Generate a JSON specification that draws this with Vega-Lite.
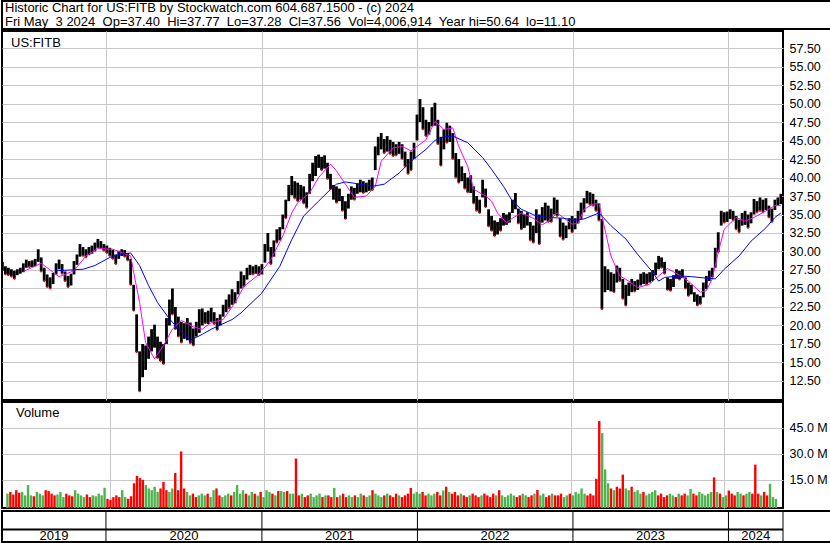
{
"$schema":"https://vega.github.io/schema/vega-lite/v6.json",
"padding":0,
"background":"white",
"spacing":0,
"config":{"font":"Liberation Sans","view":{"stroke":"black","strokeWidth":2},"axis":{"labelFont":"Liberation Sans","labelFontSize":12.5,"labelColor":"black","gridColor":"#c8c8c8","gridWidth":1,"ticks":false,"domain":false},"text":{"font":"Liberation Sans","fontSize":13,"color":"black"}},
"datasets":{
"yrs":[{"yr":"2019","s":"2019-05-02","e":"2020-01-01","m":"2019-09-01"},{"yr":"2020","s":"2020-01-01","e":"2021-01-01","m":"2020-07-02"},{"yr":"2021","s":"2021-01-01","e":"2022-01-01","m":"2021-07-02"},{"yr":"2022","s":"2022-01-01","e":"2023-01-01","m":"2022-07-02"},{"yr":"2023","s":"2023-01-01","e":"2024-01-01","m":"2023-07-02"},{"yr":"2024","s":"2024-01-01","e":"2024-05-08","m":"2024-03-05"}],
"w":[
{"d":"2019-05-03","h":28.6,"l":27.4,"v":7,"u":1},
{"d":"2019-05-10","h":28.0,"l":26.9,"v":8,"u":0},
{"d":"2019-05-17","h":27.8,"l":26.8,"v":6.5,"u":0},
{"d":"2019-05-24","h":27.6,"l":26.6,"v":9,"u":0},
{"d":"2019-05-31","h":27.4,"l":26.3,"v":7.5,"u":0},
{"d":"2019-06-07","h":27.6,"l":26.8,"v":8,"u":1},
{"d":"2019-06-14","h":27.8,"l":27.0,"v":6,"u":1},
{"d":"2019-06-21","h":28.4,"l":27.2,"v":12,"u":1,"p":27.3},
{"d":"2019-06-28","h":28.9,"l":27.8,"v":6,"u":1},
{"d":"2019-07-05","h":28.7,"l":27.9,"v":5.5,"u":0},
{"d":"2019-07-12","h":28.8,"l":27.9,"v":8,"u":1},
{"d":"2019-07-19","h":29.0,"l":28.0,"v":7,"u":1},
{"d":"2019-07-26","h":30.3,"l":28.6,"v":6,"u":1},
{"d":"2019-08-02","h":29.2,"l":27.3,"v":9,"u":0,"p":28.4},
{"d":"2019-08-09","h":27.8,"l":26.0,"v":8.5,"u":0},
{"d":"2019-08-16","h":26.9,"l":25.2,"v":7,"u":0},
{"d":"2019-08-23","h":26.5,"l":25.0,"v":6,"u":0},
{"d":"2019-08-30","h":27.1,"l":25.6,"v":6.5,"u":1},
{"d":"2019-09-06","h":28.4,"l":26.9,"v":8,"u":1,"b":27.4},
{"d":"2019-09-13","h":28.9,"l":27.6,"v":5,"u":1,"p":26.6},
{"d":"2019-09-20","h":28.3,"l":27.0,"v":7,"u":0},
{"d":"2019-09-27","h":27.3,"l":26.0,"v":6,"u":0},
{"d":"2019-10-04","h":26.7,"l":25.2,"v":5.5,"u":0},
{"d":"2019-10-11","h":27.0,"l":25.4,"v":9,"u":1},
{"d":"2019-10-18","h":28.7,"l":26.9,"v":7,"u":1,"p":27.4},
{"d":"2019-10-25","h":29.6,"l":28.2,"v":6,"u":1},
{"d":"2019-11-01","h":31.0,"l":29.3,"v":5,"u":1},
{"d":"2019-11-08","h":30.6,"l":29.4,"v":6.5,"u":0,"b":27.6},
{"d":"2019-11-15","h":30.3,"l":29.2,"v":5,"u":0,"p":29.4},
{"d":"2019-11-22","h":30.6,"l":29.5,"v":6,"u":1},
{"d":"2019-11-29","h":30.8,"l":29.7,"v":5.5,"u":1},
{"d":"2019-12-06","h":31.2,"l":30.0,"v":7,"u":1,"b":28.1},
{"d":"2019-12-13","h":31.7,"l":30.5,"v":6,"u":1,"p":30.4},
{"d":"2019-12-20","h":31.4,"l":30.4,"v":10.4,"u":1},
{"d":"2019-12-27","h":31.0,"l":30.1,"v":4,"u":0},
{"d":"2020-01-03","h":30.8,"l":29.8,"v":3.5,"u":0},
{"d":"2020-01-10","h":30.5,"l":29.4,"v":5,"u":0,"b":29.2},
{"d":"2020-01-17","h":30.2,"l":29.0,"v":6,"u":0,"p":30.3},
{"d":"2020-01-24","h":29.6,"l":28.3,"v":5,"u":0},
{"d":"2020-01-31","h":30.1,"l":29.0,"v":9,"u":1,"b":29.6},
{"d":"2020-02-07","h":30.3,"l":29.4,"v":5,"u":1},
{"d":"2020-02-14","h":30.2,"l":29.3,"v":4,"u":0,"p":29.7},
{"d":"2020-02-21","h":29.8,"l":28.8,"v":5.5,"u":0},
{"d":"2020-02-28","h":29.0,"l":25.5,"v":13,"u":0,"p":29.4,"b":29.8},
{"d":"2020-03-06","h":25.5,"l":22.0,"v":17.3,"u":0,"p":27.2},
{"d":"2020-03-13","h":21.5,"l":16.4,"v":16,"u":0},
{"d":"2020-03-20","h":16.5,"l":11.1,"v":15,"u":0,"p":23.1,"b":28.1},
{"d":"2020-03-27","h":17.5,"l":13.0,"v":12,"u":1},
{"d":"2020-04-03","h":17.3,"l":14.0,"v":10,"u":1,"p":17.7},
{"d":"2020-04-10","h":18.5,"l":15.5,"v":9,"u":1,"b":25.4},
{"d":"2020-04-17","h":19.5,"l":16.5,"v":11,"u":1},
{"d":"2020-04-24","h":20.1,"l":17.0,"v":8,"u":1,"p":15.5},
{"d":"2020-05-01","h":18.5,"l":15.6,"v":10,"u":0,"b":23.1},
{"d":"2020-05-08","h":17.8,"l":15.2,"v":13.8,"u":0},
{"d":"2020-05-15","h":17.5,"l":14.8,"v":9,"u":0,"p":17.3},
{"d":"2020-05-22","h":21.0,"l":17.5,"v":8,"u":1},
{"d":"2020-05-29","h":23.5,"l":20.0,"v":10,"u":1,"b":20.9},
{"d":"2020-06-05","h":25.0,"l":21.5,"v":19,"u":0,"p":19.5},
{"d":"2020-06-12","h":22.5,"l":19.5,"v":9,"u":0},
{"d":"2020-06-19","h":21.2,"l":18.5,"v":31.4,"u":0},
{"d":"2020-06-26","h":20.5,"l":17.7,"v":10,"u":0,"p":20.7,"b":19.1},
{"d":"2020-07-03","h":20.3,"l":18.2,"v":8,"u":1},
{"d":"2020-07-10","h":21.0,"l":18.0,"v":6,"u":1},
{"d":"2020-07-17","h":20.4,"l":17.6,"v":7,"u":0,"b":18.0},
{"d":"2020-07-24","h":19.6,"l":17.3,"v":5,"u":0,"p":19.8},
{"d":"2020-07-31","h":20.5,"l":18.5,"v":6,"u":1},
{"d":"2020-08-07","h":22.2,"l":19.0,"v":7,"u":1},
{"d":"2020-08-14","h":22.3,"l":20.0,"v":6,"u":1,"p":19.5,"b":18.8},
{"d":"2020-08-21","h":21.8,"l":20.3,"v":7,"u":0},
{"d":"2020-08-28","h":22.0,"l":20.2,"v":5,"u":1},
{"d":"2020-09-04","h":22.4,"l":20.5,"v":9,"u":1,"p":20.4,"b":19.5},
{"d":"2020-09-11","h":21.8,"l":20.2,"v":10,"u":0},
{"d":"2020-09-18","h":21.0,"l":19.4,"v":6,"u":0},
{"d":"2020-09-25","h":21.5,"l":20.0,"v":5,"u":1},
{"d":"2020-10-02","h":22.8,"l":21.2,"v":6,"u":1,"p":20.8},
{"d":"2020-10-09","h":23.5,"l":21.8,"v":7,"u":1},
{"d":"2020-10-16","h":24.2,"l":22.3,"v":6,"u":0},
{"d":"2020-10-23","h":24.9,"l":22.8,"v":8,"u":1,"b":20.8},
{"d":"2020-10-30","h":24.5,"l":23.0,"v":12,"u":1,"p":23.1},
{"d":"2020-11-06","h":26.0,"l":24.2,"v":7,"u":1},
{"d":"2020-11-13","h":27.3,"l":25.0,"v":9,"u":1,"b":21.7},
{"d":"2020-11-20","h":26.8,"l":25.3,"v":7,"u":0,"p":25.3},
{"d":"2020-11-27","h":27.8,"l":26.2,"v":6,"u":1},
{"d":"2020-12-04","h":28.2,"l":26.8,"v":8,"u":1},
{"d":"2020-12-11","h":28.0,"l":26.9,"v":7,"u":0},
{"d":"2020-12-18","h":28.2,"l":27.0,"v":6,"u":1},
{"d":"2020-12-25","h":28.0,"l":26.8,"v":8,"u":0,"p":26.9},
{"d":"2021-01-01","h":28.3,"l":26.9,"v":5,"u":1,"b":24.4},
{"d":"2021-01-08","h":31.0,"l":28.5,"v":9,"u":1},
{"d":"2021-01-15","h":32.5,"l":30.0,"v":8,"u":1},
{"d":"2021-01-22","h":30.6,"l":28.3,"v":7,"u":0,"p":28.9},
{"d":"2021-01-29","h":31.5,"l":29.3,"v":6,"u":1},
{"d":"2021-02-05","h":33.0,"l":31.2,"v":8.5,"u":0},
{"d":"2021-02-12","h":33.3,"l":31.5,"v":8.5,"u":1,"b":28.0},
{"d":"2021-02-19","h":35.0,"l":33.0,"v":8,"u":1,"p":32.1},
{"d":"2021-02-26","h":37.0,"l":34.5,"v":8.5,"u":0},
{"d":"2021-03-05","h":39.0,"l":36.8,"v":7,"u":1},
{"d":"2021-03-12","h":40.2,"l":37.6,"v":7,"u":1,"p":35.2,"b":31.6},
{"d":"2021-03-19","h":39.5,"l":37.2,"v":27.3,"u":0},
{"d":"2021-03-26","h":39.3,"l":36.8,"v":6,"u":0,"p":36.6},
{"d":"2021-04-02","h":39.0,"l":37.0,"v":7,"u":1},
{"d":"2021-04-09","h":38.8,"l":36.5,"v":5,"u":0,"b":34.8},
{"d":"2021-04-16","h":38.0,"l":35.9,"v":6,"u":0},
{"d":"2021-04-23","h":40.5,"l":37.8,"v":7,"u":1,"p":37.9},
{"d":"2021-04-30","h":42.0,"l":39.5,"v":5,"u":1},
{"d":"2021-05-07","h":42.9,"l":40.2,"v":6,"u":1},
{"d":"2021-05-14","h":43.1,"l":41.3,"v":7,"u":1,"p":40.0,"b":36.8},
{"d":"2021-05-21","h":42.8,"l":41.0,"v":5,"u":0},
{"d":"2021-05-28","h":43.0,"l":41.2,"v":6,"u":1},
{"d":"2021-06-04","h":42.0,"l":39.8,"v":6,"u":0},
{"d":"2021-06-11","h":40.5,"l":38.4,"v":5,"u":0,"p":41.8,"b":38.4},
{"d":"2021-06-18","h":39.0,"l":37.0,"v":10.3,"u":1},
{"d":"2021-06-25","h":38.8,"l":36.6,"v":5,"u":0,"p":40.9,"b":39.1},
{"d":"2021-07-02","h":38.5,"l":36.8,"v":6,"u":1},
{"d":"2021-07-09","h":37.5,"l":35.5,"v":7,"u":0},
{"d":"2021-07-16","h":36.8,"l":34.4,"v":5,"u":0,"p":39.1,"b":39.4},
{"d":"2021-07-23","h":37.8,"l":35.8,"v":6,"u":1},
{"d":"2021-07-30","h":38.8,"l":37.0,"v":5,"u":1},
{"d":"2021-08-06","h":38.6,"l":37.0,"v":6,"u":0,"p":37.3},
{"d":"2021-08-13","h":39.2,"l":37.8,"v":5,"u":1},
{"d":"2021-08-20","h":39.7,"l":38.0,"v":7,"u":1,"b":39.1},
{"d":"2021-08-27","h":39.5,"l":37.9,"v":6,"u":0},
{"d":"2021-09-03","h":39.3,"l":38.0,"v":5,"u":1,"p":37.5},
{"d":"2021-09-10","h":39.7,"l":38.2,"v":6,"u":1},
{"d":"2021-09-17","h":40.0,"l":38.3,"v":9,"u":0,"b":38.8},
{"d":"2021-09-24","h":44.2,"l":41.0,"v":7,"u":1,"p":38.8},
{"d":"2021-10-01","h":45.5,"l":43.0,"v":6,"u":1},
{"d":"2021-10-08","h":46.0,"l":43.8,"v":5,"u":1,"p":42.2},
{"d":"2021-10-15","h":45.2,"l":43.3,"v":6,"u":0,"b":39.1},
{"d":"2021-10-22","h":45.6,"l":43.5,"v":7,"u":1},
{"d":"2021-10-29","h":45.1,"l":43.2,"v":6,"u":0},
{"d":"2021-11-05","h":44.8,"l":42.9,"v":5,"u":0,"p":44.0},
{"d":"2021-11-12","h":44.5,"l":43.0,"v":7,"u":0},
{"d":"2021-11-19","h":44.8,"l":43.2,"v":6,"u":1,"b":40.6},
{"d":"2021-11-26","h":44.5,"l":42.5,"v":5,"u":0,"p":44.2},
{"d":"2021-12-03","h":43.5,"l":41.5,"v":6,"u":0},
{"d":"2021-12-10","h":42.5,"l":40.5,"v":7,"u":0},
{"d":"2021-12-17","h":43.5,"l":41.0,"v":10.3,"u":0,"p":43.6,"b":42.2},
{"d":"2021-12-24","h":44.7,"l":42.5,"v":7,"u":1},
{"d":"2021-12-31","h":48.5,"l":45.0,"v":8,"u":1},
{"d":"2022-01-07","h":50.6,"l":47.5,"v":7,"u":1},
{"d":"2022-01-14","h":49.5,"l":46.5,"v":8,"u":0},
{"d":"2022-01-21","h":47.8,"l":45.6,"v":6,"u":0,"p":45.1,"b":43.8},
{"d":"2022-01-28","h":47.5,"l":45.8,"v":7,"u":1},
{"d":"2022-02-04","h":49.5,"l":46.9,"v":6,"u":1},
{"d":"2022-02-11","h":50.1,"l":47.0,"v":7,"u":1,"p":47.6,"b":45.0},
{"d":"2022-02-18","h":47.8,"l":44.5,"v":8,"u":0},
{"d":"2022-02-25","h":45.5,"l":41.6,"v":6,"u":0},
{"d":"2022-03-04","h":46.5,"l":43.8,"v":8.8,"u":1,"p":46.5,"b":45.5},
{"d":"2022-03-11","h":47.4,"l":44.7,"v":11,"u":0},
{"d":"2022-03-18","h":47.0,"l":44.8,"v":8,"u":1},
{"d":"2022-03-25","h":46.0,"l":42.5,"v":7,"u":0,"p":46.7,"b":45.6},
{"d":"2022-04-01","h":43.3,"l":40.0,"v":8,"u":0},
{"d":"2022-04-08","h":42.5,"l":39.3,"v":6,"u":0,"p":44.2},
{"d":"2022-04-15","h":41.5,"l":39.5,"v":7,"u":1},
{"d":"2022-04-22","h":40.6,"l":38.5,"v":6,"u":0},
{"d":"2022-04-29","h":40.0,"l":38.0,"v":5,"u":0,"p":41.5,"b":44.7},
{"d":"2022-05-06","h":40.3,"l":37.9,"v":6,"u":1},
{"d":"2022-05-13","h":38.8,"l":36.5,"v":7,"u":0,"p":38.4},
{"d":"2022-05-20","h":37.5,"l":35.5,"v":6,"u":0},
{"d":"2022-05-27","h":37.0,"l":35.2,"v":5,"u":0},
{"d":"2022-06-03","h":39.7,"l":37.3,"v":6,"u":1,"b":42.7},
{"d":"2022-06-10","h":38.5,"l":36.0,"v":7,"u":0,"p":37.5},
{"d":"2022-06-17","h":35.7,"l":33.4,"v":6,"u":0},
{"d":"2022-06-24","h":34.8,"l":32.8,"v":5,"u":0,"p":36.8,"b":41.1},
{"d":"2022-07-01","h":34.2,"l":32.1,"v":7,"u":0},
{"d":"2022-07-08","h":34.0,"l":32.3,"v":6,"u":1,"p":35.2},
{"d":"2022-07-15","h":34.5,"l":32.8,"v":9,"u":0},
{"d":"2022-07-22","h":35.2,"l":33.5,"v":6,"u":1,"b":38.8},
{"d":"2022-07-29","h":35.0,"l":33.6,"v":5,"u":1,"p":33.9},
{"d":"2022-08-05","h":35.3,"l":33.9,"v":6,"u":1},
{"d":"2022-08-12","h":37.0,"l":35.2,"v":7,"u":1,"p":34.5,"b":36.8},
{"d":"2022-08-19","h":37.9,"l":35.7,"v":6,"u":1},
{"d":"2022-08-26","h":35.8,"l":33.8,"v":5,"u":0},
{"d":"2022-09-02","h":35.5,"l":33.0,"v":6,"u":0,"p":35.2,"b":35.7},
{"d":"2022-09-09","h":35.0,"l":33.2,"v":7,"u":1},
{"d":"2022-09-16","h":35.3,"l":33.5,"v":6,"u":1},
{"d":"2022-09-23","h":34.0,"l":31.5,"v":5,"u":0},
{"d":"2022-09-30","h":33.5,"l":31.2,"v":6,"u":0,"p":34.5},
{"d":"2022-10-07","h":35.7,"l":32.5,"v":7,"u":1,"b":34.8},
{"d":"2022-10-14","h":35.0,"l":31.0,"v":9.2,"u":0},
{"d":"2022-10-21","h":36.0,"l":33.9,"v":6,"u":1,"p":33.6},
{"d":"2022-10-28","h":36.6,"l":34.2,"v":7,"u":1},
{"d":"2022-11-04","h":36.2,"l":34.0,"v":5,"u":0,"p":34.1,"b":34.6},
{"d":"2022-11-11","h":35.8,"l":34.0,"v":6,"u":0},
{"d":"2022-11-18","h":37.3,"l":35.0,"v":7,"u":1},
{"d":"2022-11-25","h":37.0,"l":34.8,"v":6,"u":0,"p":35.2},
{"d":"2022-12-02","h":34.5,"l":32.0,"v":6,"u":0},
{"d":"2022-12-09","h":33.9,"l":31.6,"v":7,"u":0,"b":34.5},
{"d":"2022-12-16","h":33.5,"l":31.8,"v":5,"u":1,"p":34.3},
{"d":"2022-12-23","h":34.5,"l":33.0,"v":6,"u":1},
{"d":"2022-12-30","h":34.8,"l":32.6,"v":7,"u":0,"p":33.7},
{"d":"2023-01-06","h":34.5,"l":33.0,"v":6,"u":1,"b":34.2},
{"d":"2023-01-13","h":35.5,"l":33.8,"v":8,"u":1,"p":33.8},
{"d":"2023-01-20","h":36.6,"l":34.4,"v":7,"u":1},
{"d":"2023-01-27","h":37.2,"l":35.3,"v":10,"u":1,"p":35.7,"b":34.4},
{"d":"2023-02-03","h":38.2,"l":36.5,"v":7,"u":1},
{"d":"2023-02-10","h":38.0,"l":36.3,"v":6,"u":0},
{"d":"2023-02-17","h":37.8,"l":36.2,"v":7,"u":0,"p":36.4},
{"d":"2023-02-24","h":37.0,"l":35.5,"v":6,"u":0},
{"d":"2023-03-03","h":36.5,"l":34.2,"v":15.6,"u":0,"p":36.5,"b":35.2},
{"d":"2023-03-10","h":34.4,"l":22.2,"v":49,"u":0},
{"d":"2023-03-17","h":28.0,"l":24.5,"v":42,"u":1,"p":33.0},
{"d":"2023-03-24","h":27.6,"l":24.8,"v":21,"u":1},
{"d":"2023-03-31","h":27.2,"l":24.6,"v":13,"u":1,"p":29.4,"b":33.5},
{"d":"2023-04-07","h":27.0,"l":24.5,"v":10,"u":0},
{"d":"2023-04-14","h":28.1,"l":25.8,"v":9,"u":1},
{"d":"2023-04-21","h":27.8,"l":26.0,"v":11,"u":0,"p":26.7},
{"d":"2023-04-28","h":26.3,"l":23.6,"v":10,"u":0},
{"d":"2023-05-05","h":25.5,"l":22.7,"v":18,"u":0,"b":31.7},
{"d":"2023-05-12","h":25.8,"l":24.0,"v":10,"u":1,"p":26.0},
{"d":"2023-05-19","h":26.3,"l":24.5,"v":9,"u":1},
{"d":"2023-05-26","h":26.0,"l":24.6,"v":11,"u":0},
{"d":"2023-06-02","h":26.2,"l":24.8,"v":8,"u":1,"p":25.1,"b":29.6},
{"d":"2023-06-09","h":27.0,"l":25.4,"v":9,"u":1},
{"d":"2023-06-16","h":27.2,"l":25.6,"v":7,"u":1},
{"d":"2023-06-23","h":27.0,"l":25.5,"v":8,"u":0},
{"d":"2023-06-30","h":27.2,"l":25.8,"v":6,"u":1,"p":25.6},
{"d":"2023-07-07","h":27.5,"l":26.0,"v":7,"u":1,"b":27.2},
{"d":"2023-07-14","h":28.5,"l":26.8,"v":8,"u":1},
{"d":"2023-07-21","h":29.4,"l":27.6,"v":9,"u":1,"p":26.7,"b":26.0},
{"d":"2023-07-28","h":29.2,"l":27.8,"v":6,"u":0},
{"d":"2023-08-04","h":28.6,"l":27.0,"v":7,"u":0,"b":26.5},
{"d":"2023-08-11","h":26.5,"l":24.8,"v":5,"u":0,"p":27.7},
{"d":"2023-08-18","h":26.3,"l":24.7,"v":6,"u":0},
{"d":"2023-08-25","h":26.8,"l":25.2,"v":7,"u":1},
{"d":"2023-09-01","h":27.6,"l":26.3,"v":6,"u":1},
{"d":"2023-09-08","h":27.4,"l":26.2,"v":5,"u":0,"p":26.8,"b":26.7},
{"d":"2023-09-15","h":27.6,"l":26.4,"v":7,"u":1},
{"d":"2023-09-22","h":26.5,"l":25.0,"v":6,"u":0},
{"d":"2023-09-29","h":25.8,"l":24.0,"v":7,"u":0,"p":26.0},
{"d":"2023-10-06","h":25.5,"l":24.2,"v":6,"u":1,"b":26.6},
{"d":"2023-10-13","h":24.5,"l":23.2,"v":9.7,"u":1},
{"d":"2023-10-20","h":24.2,"l":22.7,"v":7,"u":0},
{"d":"2023-10-27","h":24.0,"l":22.9,"v":6,"u":0,"p":24.5},
{"d":"2023-11-03","h":25.8,"l":23.8,"v":8,"u":1},
{"d":"2023-11-10","h":26.7,"l":24.9,"v":7,"u":1,"p":24.7,"b":26.4},
{"d":"2023-11-17","h":27.4,"l":26.0,"v":6,"u":1},
{"d":"2023-11-24","h":27.8,"l":26.5,"v":7,"u":1,"p":26.3},
{"d":"2023-12-01","h":30.5,"l":27.8,"v":8,"u":1,"b":26.3},
{"d":"2023-12-08","h":32.6,"l":29.9,"v":16.4,"u":0,"p":29.9},
{"d":"2023-12-15","h":35.5,"l":33.5,"v":8,"u":1},
{"d":"2023-12-22","h":35.3,"l":33.9,"v":7,"u":0,"p":33.0,"b":27.6},
{"d":"2023-12-29","h":35.4,"l":34.0,"v":5,"u":1},
{"d":"2024-01-05","h":35.7,"l":34.4,"v":6,"u":1},
{"d":"2024-01-12","h":35.5,"l":34.2,"v":8.8,"u":0},
{"d":"2024-01-19","h":34.8,"l":33.0,"v":7,"u":0,"p":34.6},
{"d":"2024-01-26","h":34.3,"l":32.6,"v":6,"u":0,"b":29.4},
{"d":"2024-02-02","h":35.2,"l":33.5,"v":8,"u":1},
{"d":"2024-02-09","h":35.5,"l":33.6,"v":7,"u":1,"p":34.1},
{"d":"2024-02-16","h":35.0,"l":33.2,"v":6,"u":0},
{"d":"2024-02-23","h":35.3,"l":33.8,"v":7,"u":1,"b":31.4},
{"d":"2024-03-01","h":37.1,"l":35.0,"v":8,"u":1,"p":34.6},
{"d":"2024-03-08","h":36.8,"l":35.3,"v":7,"u":0},
{"d":"2024-03-15","h":37.3,"l":35.5,"v":23.8,"u":0},
{"d":"2024-03-22","h":37.0,"l":35.3,"v":7,"u":0},
{"d":"2024-03-29","h":37.2,"l":35.6,"v":6,"u":1,"p":35.5,"b":33.2},
{"d":"2024-04-05","h":36.2,"l":34.6,"v":8,"u":0},
{"d":"2024-04-12","h":35.8,"l":34.0,"v":6,"u":0},
{"d":"2024-04-19","h":37.0,"l":35.6,"v":12.7,"u":1,"p":36.2,"b":34.6},
{"d":"2024-04-26","h":37.3,"l":36.2,"v":5,"u":1},
{"d":"2024-05-03","h":37.8,"l":36.4,"v":4,"u":1,"p":36.2,"b":35.2}
]},
"vconcat":[
{
"width":829,"height":28,
"data":{"values":[{"t":"Historic Chart for US:FITB by Stockwatch.com 604.687.1500 - (c) 2024","r":1},{"t":"Fri May\u00a0 3 2024\u00a0 Op=37.40\u00a0 Hi=37.77\u00a0 Lo=37.28\u00a0 Cl=37.56\u00a0 Vol=4,006,914\u00a0 Year hi=50.64\u00a0 lo=11.10","r":2}]},
"mark":{"type":"text","align":"left","baseline":"middle","fontSize":13},
"encoding":{"y":{"field":"r","type":"ordinal","axis":null,"scale":{"type":"point","padding":0.5}},"x":{"value":3},"text":{"field":"t"}}
},
{
"width":781,"height":369,
"layer":[
{"data":{"name":"w"},"mark":{"type":"rule","color":"black","strokeWidth":2.8},
"encoding":{
"x":{"field":"d","type":"temporal","scale":{"domain":[{"year":2019,"month":5,"date":2},{"year":2024,"month":5,"date":8}]},"axis":{"values":[{"year":2020,"month":1,"date":1},{"year":2021,"month":1,"date":1},{"year":2022,"month":1,"date":1},{"year":2023,"month":1,"date":1},{"year":2024,"month":1,"date":1}],"grid":true,"labels":false,"title":null}},
"y":{"field":"h","type":"quantitative","scale":{"domain":[9.93,59.8],"nice":false,"zero":false},"axis":{"orient":"right","values":[12.5,15,17.5,20,22.5,25,27.5,30,32.5,35,37.5,40,42.5,45,47.5,50,52.5,55,57.5],"format":".2f","grid":true,"labelPadding":6,"title":null}},
"y2":{"field":"l"}}},
{"data":{"name":"w"},"transform":[{"filter":"datum.u == 0"}],"mark":{"type":"square","color":"#ff0000","size":3,"opacity":1},
"encoding":{
"x":{"field":"d","type":"temporal","axis":{"values":[{"year":2020,"month":1,"date":1},{"year":2021,"month":1,"date":1},{"year":2022,"month":1,"date":1},{"year":2023,"month":1,"date":1},{"year":2024,"month":1,"date":1}],"grid":true,"labels":false,"title":null}},
"y":{"field":"l","type":"quantitative","axis":null}}},
{"data":{"name":"w"},"transform":[{"filter":"isValid(datum.p)"}],"mark":{"type":"line","color":"#ff00ff","strokeWidth":1},
"encoding":{
"x":{"field":"d","type":"temporal","axis":{"values":[{"year":2020,"month":1,"date":1},{"year":2021,"month":1,"date":1},{"year":2022,"month":1,"date":1},{"year":2023,"month":1,"date":1},{"year":2024,"month":1,"date":1}],"grid":true,"labels":false,"title":null}},
"y":{"field":"p","type":"quantitative","axis":{"orient":"right","offset":48,"domain":true,"domainColor":"black","domainWidth":2,"labels":false,"grid":false,"ticks":false,"title":null}}}},
{"data":{"name":"w"},"transform":[{"filter":"isValid(datum.b)"}],"mark":{"type":"line","color":"#0000ff","strokeWidth":1},
"encoding":{
"x":{"field":"d","type":"temporal","axis":{"values":[{"year":2020,"month":1,"date":1},{"year":2021,"month":1,"date":1},{"year":2022,"month":1,"date":1},{"year":2023,"month":1,"date":1},{"year":2024,"month":1,"date":1}],"grid":true,"labels":false,"title":null}},
"y":{"field":"b","type":"quantitative","axis":null}}},
{"data":{"values":[{"s":"US:FITB"}]},"mark":{"type":"text","align":"left","baseline":"alphabetic","dx":9,"dy":16,"fontSize":13},
"encoding":{
"x":{"datum":{"year":2019,"month":5,"date":2},"type":"temporal","axis":{"values":[{"year":2020,"month":1,"date":1},{"year":2021,"month":1,"date":1},{"year":2022,"month":1,"date":1},{"year":2023,"month":1,"date":1},{"year":2024,"month":1,"date":1}],"grid":true,"labels":false,"title":null}},
"y":{"datum":59.8,"type":"quantitative","axis":null},
"text":{"field":"s"}}}
],
"resolve":{"axis":{"y":"independent"}}
},
{
"width":781,"height":106,
"layer":[
{"data":{"name":"w"},"mark":{"type":"bar","width":2.4},
"encoding":{
"x":{"field":"d","type":"temporal","scale":{"domain":[{"year":2019,"month":5,"date":2},{"year":2024,"month":5,"date":8}]},"axis":{"values":[{"year":2020,"month":1,"date":1},{"year":2021,"month":1,"date":1},{"year":2022,"month":1,"date":1},{"year":2023,"month":1,"date":1},{"year":2024,"month":1,"date":1}],"grid":true,"labels":false,"title":null}},
"y":{"field":"v","type":"quantitative","scale":{"domain":[-1.3,60],"nice":false,"zero":false},"axis":{"orient":"right","values":[15,30,45],"labelExpr":"format(datum.value, '.1f') + ' M'","grid":true,"labelPadding":6,"title":null}},
"y2":{"datum":-1.3},
"color":{"field":"u","type":"nominal","scale":{"domain":[0,1],"range":["#ff0000","#4db34d"]},"legend":null}}},
{"data":{"values":[{"s":"Volume"}]},"mark":{"type":"text","align":"left","baseline":"alphabetic","dx":9,"dy":15,"fontSize":13},
"encoding":{
"x":{"datum":{"year":2019,"month":5,"date":2},"type":"temporal","axis":{"values":[{"year":2020,"month":1,"date":1},{"year":2021,"month":1,"date":1},{"year":2022,"month":1,"date":1},{"year":2023,"month":1,"date":1},{"year":2024,"month":1,"date":1}],"grid":true,"labels":false,"title":null}},
"y":{"datum":60,"type":"quantitative","axis":{"orient":"right","offset":48,"domain":true,"domainColor":"black","domainWidth":2,"labels":false,"grid":false,"ticks":false,"title":null}},
"text":{"field":"s"}}}
],
"resolve":{"axis":{"y":"independent"}}
},
{
"width":829,"height":31,
"data":{"name":"yrs"},
"layer":[
{"mark":{"type":"rule","color":"black","strokeWidth":1},
"encoding":{"x":{"field":"e","type":"temporal","scale":{"domain":[{"year":2019,"month":5,"date":2},{"year":2024,"month":5,"date":8}],"range":[0,781]},"axis":null}}},
{"mark":{"type":"rule","color":"black","strokeWidth":2},
"encoding":{"x":{"field":"s","type":"temporal","axis":null},"x2":{"field":"e"},"y":{"datum":14,"type":"quantitative","scale":{"domain":[0,31]},"axis":null}}},
{"mark":{"type":"text","fontSize":13,"baseline":"middle","align":"center"},
"encoding":{"x":{"field":"m","type":"temporal","axis":null},"y":{"datum":7,"type":"quantitative","axis":null},"text":{"field":"yr"}}}
]
}
]
}
